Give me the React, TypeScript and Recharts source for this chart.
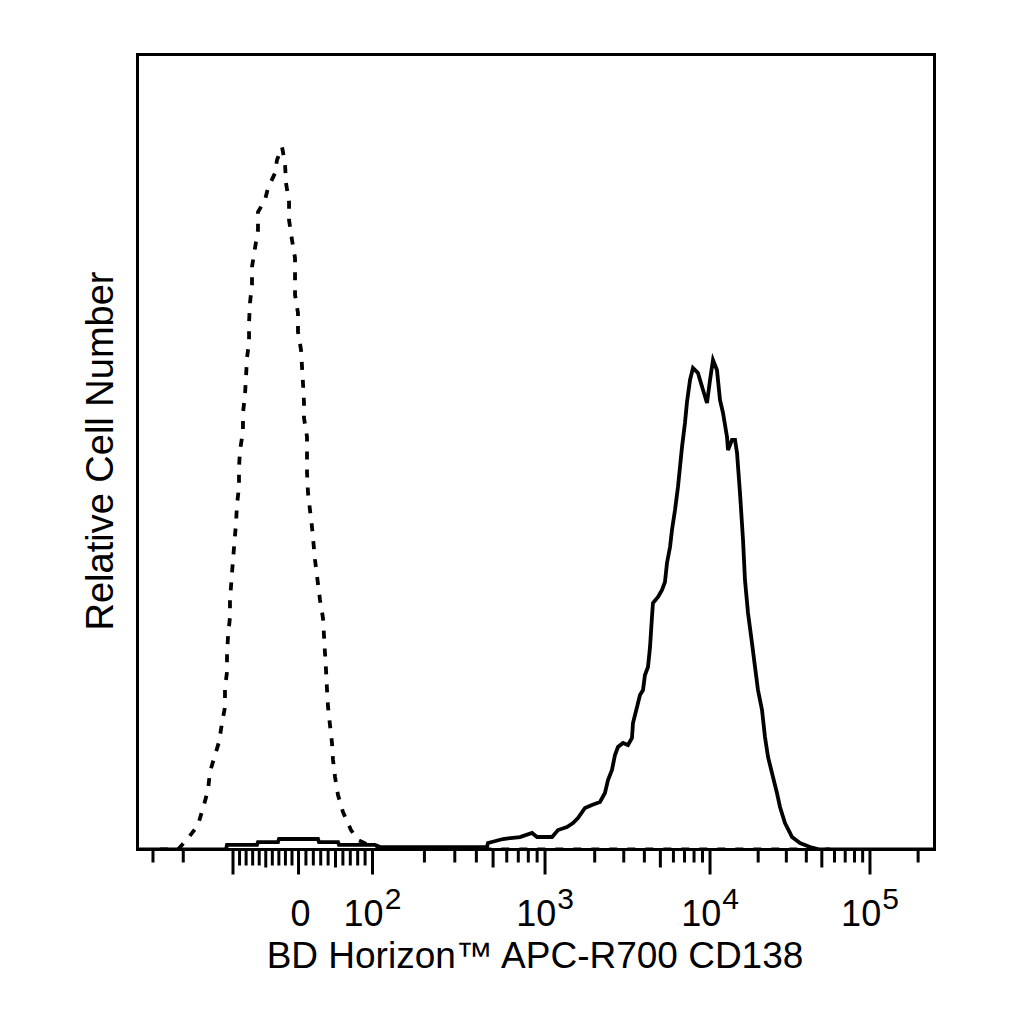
import React from 'react';
import { LineChart, Line, XAxis, YAxis, ReferenceArea } from 'recharts';

const FONT = '"Liberation Sans", Arial, Helvetica, sans-serif';

// Display scale: 0–1024 channels (biexponential display of fluorescence)
const CHANNEL_MAX = 1024;

// Isotype control histogram (dashed)
const isotypeChannel = [
  28.9, 52.0, 66.2, 77.7, 85.4, 90.6, 93.1, 99.6, 104.7, 108.6, 112.4, 112.4, 115.0, 115.0, 116.3,
  118.8, 118.8, 122.7, 126.6, 127.8, 130.4, 130.4, 131.7, 135.5, 135.5, 138.1, 139.4, 140.7, 143.3,
  143.3, 144.5, 147.1, 147.1, 151.0, 154.8, 154.8, 163.8, 167.7, 176.7, 179.2, 185.7, 189.5, 190.8,
  194.7, 194.7, 198.5, 202.4, 202.4, 202.4, 206.2, 206.2, 210.1, 211.4, 212.6, 213.9, 213.9, 217.8,
  217.8, 217.8, 219.1, 221.6, 224.2, 228.1, 234.5, 238.3, 240.9, 242.2, 243.5, 244.8, 247.3, 249.9,
  251.2, 253.8, 257.6, 264.0, 274.3, 283.3, 302.6, 318.0, 889.7,
];
const isotypeCount = [
  0, 0, 1.57, 3.08, 5.6, 7.48, 9.75, 11.89, 13.52, 15.91, 17.92, 20.31, 22.33, 24.72, 26.73,
  29.25, 31.38, 36.42, 41.07, 43.34, 45.6, 47.99, 50.25, 52.52, 54.91, 57.17, 59.43, 61.82, 63.84,
  66.23, 68.74, 71.01, 73.27, 75.66, 77.92, 80.19, 81.7, 83.21, 85.09, 86.73, 88.36, 86.35, 83.84,
  81.45, 79.18, 76.67, 74.4, 72.01, 69.75, 67.48, 65.09, 62.83, 60.69, 58.68, 56.29, 54.28, 51.89,
  49.62, 47.36, 44.84, 42.71, 40.57, 36.42, 31.38, 29.12, 24.72, 22.58, 20.06, 17.92, 15.66, 13.39,
  11.26, 9.12, 6.86, 4.72, 2.45, 1.19, 0.31, 0, 0,
];

// CD138 stained histogram (solid)
const cd138Channel = [
  0, 113.7, 115.0, 153.5, 154.8, 180.5, 181.8, 231.9, 233.2, 257.6, 258.9, 305.1, 311.6, 449.0,
  450.3, 469.6, 491.4, 506.9, 513.3, 532.6, 540.3, 551.8, 559.5, 565.9, 574.9, 583.9, 594.2, 600.6,
  604.5, 609.6, 613.5, 617.3, 623.8, 630.2, 635.3, 636.6, 641.8, 645.6, 649.5, 652.0, 655.9, 658.5,
  661.0, 662.3, 668.8, 673.9, 677.7, 680.3, 684.2, 686.7, 690.6, 694.4, 697.0, 699.6, 703.4, 706.0,
  709.9, 713.7, 720.1, 726.6, 731.7, 735.6, 739.4, 744.5, 748.4, 752.3, 757.4, 758.7, 763.8, 767.7,
  770.3, 774.1, 778.0, 780.5, 784.4, 789.5, 793.4, 797.2, 802.4, 806.2, 810.1, 815.2, 821.6, 825.5,
  831.9, 838.3, 840.9, 851.2, 864.0, 876.8, 1024,
];
const cd138Count = [
  0, 0, 0.57, 0.57, 0.94, 0.94, 1.32, 1.32, 0.94, 0.94, 0.57, 0.57, 0.31, 0.31,
  0.82, 1.32, 1.57, 2.08, 1.57, 1.57, 2.45, 2.83, 3.33, 3.96, 5.22, 5.6, 5.97, 7.11,
  8.74, 10.0, 11.89, 12.89, 13.4, 13.14, 14.02, 15.91, 17.92, 19.43, 20.06, 21.95, 22.96, 25.47,
  29.25, 31.01, 31.76, 32.64, 33.65, 36.04, 38.05, 40.19, 42.71, 45.6, 48.11, 50.63, 53.65, 56.29,
  59.06, 60.57, 59.94, 57.8, 56.16, 59.06, 61.57, 60.31, 56.54, 54.91, 51.89, 50.25, 51.51, 51.51,
  49.87, 44.84, 38.93, 33.9, 29.75, 25.97, 22.96, 20.06, 17.54, 14.15, 11.64, 9.62, 7.11, 5.35,
  3.33, 2.08, 1.57, 0.82, 0.31, 0, 0,
];

// Axis anchors: fluorescence value -> display channel
const anchorValues = [-300, -200, -100, 0, 100, 1000, 10000, 100000];
const anchorChannels = [19.9, 58.8, 122.7, 206.9, 301.9, 523.6, 735.6, 941.1];

// Major tick labels
const majorValues = [-100, 0, 100, 1000, 10000, 100000];
const majorBase = ['', '0', '10', '10', '10', '10'];
const majorExp = ['', '', '2', '3', '4', '5'];

const toChannel = (v: number): number => {
  const i = anchorValues.indexOf(v);
  if (i >= 0) return anchorChannels[i];
  if (v > -100 && v < 100) {
    const lo = v < 0 ? 2 : 3;
    const f = (v - anchorValues[lo]) / (anchorValues[lo + 1] - anchorValues[lo]);
    return anchorChannels[lo] + f * (anchorChannels[lo + 1] - anchorChannels[lo]);
  }
  const k = Math.floor(Math.log10(v));
  const lo = Math.min(anchorValues.indexOf(Math.pow(10, k)), anchorValues.length - 2);
  const loV = anchorValues[lo];
  const hiV = anchorValues[lo + 1];
  const f = (Math.log10(v) - Math.log10(loV)) / (Math.log10(hiV) - Math.log10(loV));
  return anchorChannels[lo] + f * (anchorChannels[lo + 1] - anchorChannels[lo]);
};

type Tick = { pos: number; kind: string; base: string; exp: string };
const buildTicks = (): Tick[] => {
  const list: Tick[] = [];
  majorValues.forEach((v, i) => list.push({ pos: toChannel(v), kind: 'major', base: majorBase[i], exp: majorExp[i] }));
  [-300, -200].forEach((v) => list.push({ pos: toChannel(v), kind: 'minor', base: '', exp: '' }));
  for (let m = 1; m <= 9; m++) {
    [-m * 10, m * 10].forEach((v) =>
      list.push({ pos: toChannel(v), kind: m === 5 ? 'mid' : 'lin', base: '', exp: '' })
    );
  }
  [100, 1000, 10000].forEach((d) => {
    for (let m = 2; m <= 9; m++) {
      list.push({ pos: toChannel(m * d), kind: m === 5 ? 'mid' : 'minor', base: '', exp: '' });
    }
  });
  list.push({ pos: toChannel(200000), kind: 'minor', base: '', exp: '' });
  return list;
};
const tickList = buildTicks();

const isotypeData = isotypeChannel.map((x, i) => ({ x, y: isotypeCount[i] }));
const cd138Data = cd138Channel.map((x, i) => ({ x, y: cd138Count[i] }));

const tickLen: Record<string, number> = { major: 25, mid: 18, lin: 16, minor: 13 };

const renderTick = (props: any) => {
  const { x, y, payload } = props;
  const t = tickList.find((tt) => Math.abs(tt.pos - payload.value) < 1e-6);
  if (!t) return <g />;
  return (
    <g>
      <line x1={x} x2={x} y1={y} y2={y + tickLen[t.kind]} stroke="#000" strokeWidth={3} />
      {t.base && (
        <text
          x={t.exp ? x : x + 2}
          y={y + 76.5}
          textAnchor="middle"
          fontFamily={FONT}
          fontSize={36}
          fill="#000"
        >
          {t.base}
          {t.exp && (
            <tspan fontSize={30} dx={1} dy={-17}>
              {t.exp}
            </tspan>
          )}
        </text>
      )}
    </g>
  );
};

export default function App() {
  return (
    <div style={{ position: 'absolute', left: 0, top: 0, width: 1024, height: 1024, background: '#fff' }}>
      <LineChart
        width={1024}
        height={1024}
        margin={{ top: 54.5, right: 89.5, bottom: 54.5, left: 37.5 }}
      >
        <XAxis
          type="number"
          dataKey="x"
          domain={[0, CHANNEL_MAX]}
          ticks={tickList.map((t) => t.pos)}
          interval={0}
          tick={renderTick}
          tickLine={false}
          axisLine={false}
          tickSize={0}
          tickMargin={0}
          height={120}
          allowDataOverflow
          label={{
            content: (p: any) => {
              const vb = p.viewBox;
              return (
                <text
                  x={vb.x + vb.width / 2 - 1}
                  y={vb.y + 118.5}
                  textAnchor="middle"
                  fontFamily={FONT}
                  fontSize={37}
                  fill="#000"
                >
                  BD Horizon™ APC-R700 CD138
                </text>
              );
            },
          }}
        />
        <YAxis
          type="number"
          domain={[0, 100]}
          width={100}
          tick={false}
          tickLine={false}
          axisLine={false}
          allowDataOverflow
          label={{
            content: (p: any) => {
              const vb = p.viewBox;
              const cx = vb.x + 75.5;
              const cy = vb.y + vb.height / 2 - 1;
              return (
                <text
                  x={cx}
                  y={cy}
                  transform={`rotate(-90 ${cx} ${cy})`}
                  textAnchor="middle"
                  fontFamily={FONT}
                  fontSize={38}
                  fill="#000"
                >
                  Relative Cell Number
                </text>
              );
            },
          }}
        />
        <ReferenceArea
          x1={0}
          x2={CHANNEL_MAX}
          y1={0}
          y2={100}
          fill="none"
          fillOpacity={0}
          stroke="#000"
          strokeWidth={3}
          ifOverflow="visible"
        />
        <Line
          data={isotypeData}
          dataKey="y"
          type="linear"
          stroke="#000"
          strokeWidth={3.8}
          strokeDasharray="8 10"
          dot={false}
          activeDot={false}
          isAnimationActive={false}
        />
        <Line
          data={cd138Data}
          dataKey="y"
          type="linear"
          stroke="#000"
          strokeWidth={3.8}
          dot={false}
          activeDot={false}
          isAnimationActive={false}
        />
      </LineChart>
    </div>
  );
}
